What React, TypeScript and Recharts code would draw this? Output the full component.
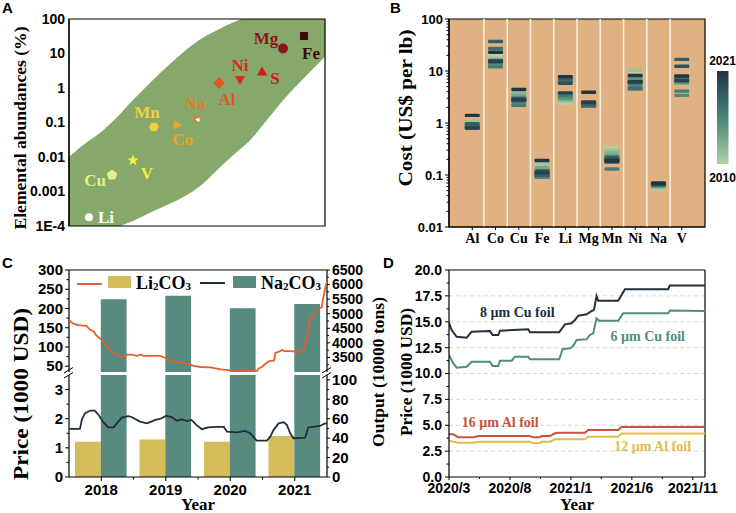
import React from "react";
import {
  ComposedChart,
  LineChart,
  Area,
  Bar,
  Line,
  Scatter,
  XAxis,
  YAxis,
  CartesianGrid,
  ReferenceArea,
  ReferenceLine,
  ReferenceDot,
} from "recharts";

const W = 736;
const H = 513;
const SERIF = '"Liberation Serif", "Times New Roman", serif';
const SANS = '"Liberation Sans", Arial, sans-serif';

// ---------- A: elemental abundances ----------
const bandX = [0, 6, 12, 19, 25, 32, 38, 45, 51, 58, 64, 71, 77, 84, 92, 100];
const bandUpper = [0.01, 0.024, 0.05, 0.15, 0.45, 1.5, 4, 11.5, 25, 48, 79, 126, 178, 250, 355, 500];
const bandLower = [2.5e-5, 3.5e-5, 5e-5, 9.3e-5, 1.4e-4, 2.5e-4, 4e-4, 7.2e-4, 1.4e-3, 4.3e-3, 0.011, 0.032, 0.11, 0.47, 2, 8];
const elements = ["Li", "Cu", "V", "Mn", "Co", "Na", "Al", "Ni", "S", "Mg", "Fe"];
const elementPos = [7.8, 16.8, 25, 33.2, 42, 50, 58.6, 66.8, 75.4, 83.6, 91.8];
const abundance = [0.00018, 0.003, 0.008, 0.074, 0.085, 0.13, 1.4, 1.7, 3, 14, 32];
const abundanceTicks = [1e-4, 0.001, 0.01, 0.1, 1, 10, 100];

const elementStyle: Record<string, any> = {
  Li: { color: "#ffffff", shape: "circle", r: 4, dx: 9, dy: 0, anchor: "start" },
  Cu: { color: "#e6ef86", shape: "pentagon", r: 5.5, dx: -6, dy: 5, anchor: "end" },
  V: { color: "#f2ee3c", shape: "star", r: 6, dx: 14, dy: 13, anchor: "middle" },
  Mn: { color: "#f0cf3a", shape: "hexagon", r: 5, dx: -7, dy: -15, anchor: "middle" },
  Co: { color: "#e9a523", shape: "triRight", r: 5.5, dx: 6, dy: 15, anchor: "middle" },
  Na: { color: "#e27b2e", shape: "triLeft", r: 5.5, dx: -2, dy: -15, anchor: "middle" },
  Al: { color: "#df5a22", shape: "diamond", r: 6, dx: 8, dy: 17, anchor: "middle" },
  Ni: { color: "#dc2a22", shape: "triDown", r: 6, dx: 0, dy: -15, anchor: "middle" },
  S: { color: "#d11a16", shape: "triUp", r: 6, dx: 13, dy: 7, anchor: "middle" },
  Mg: { color: "#8c1616", shape: "circle", r: 5, dx: -17, dy: -10, anchor: "middle" },
  Fe: { color: "#3a0a0a", shape: "square", r: 4, dx: 7, dy: 17, anchor: "middle" },
};

// ---------- B: cost per lb, 2010-2021 ----------
const metals = ["Al", "Co", "Cu", "Fe", "Li", "Mg", "Mn", "Ni", "Na", "V"];
const years = [2010, 2011, 2012, 2013, 2014, 2015, 2016, 2017, 2018, 2019, 2020, 2021];
const yearColors = [
  "#b3d0a6", "#9fc39c", "#8ab592", "#76a78a", "#639983", "#528b7e",
  "#467c77", "#3d6e6e", "#365f64", "#2f5059", "#28424d", "#223440",
];
const costAl = [1.0, 1.1, 0.92, 0.85, 0.86, 0.8, 0.8, 0.9, 0.97, 0.82, 0.8, 1.4];
const costCo = [19.6, 17.5, 14, 12.5, 14, 13, 12, 27, 37, 16, 15, 23];
const costCu = [3.4, 4.0, 3.6, 3.3, 3.1, 2.5, 2.2, 2.8, 2.95, 2.7, 2.8, 4.4];
const costFe = [0.15, 0.17, 0.13, 0.14, 0.11, 0.09, 0.095, 0.1, 0.1, 0.12, 0.11, 0.19];
const costLi = [2.4, 2.6, 2.8, 2.9, 3.0, 3.2, 3.4, 6.5, 7.2, 5.8, 3.8, 7.8];
const costMg = [2.3, 2.4, 2.3, 2.2, 2.2, 2.1, 2.1, 2.2, 2.3, 2.5, 2.5, 3.9];
const costMn = [0.33, 0.3, 0.27, 0.24, 0.22, 0.18, 0.13, 0.2, 0.22, 0.2, 0.18, 0.19];
const costNi = [9.9, 10.3, 8.0, 6.8, 7.6, 5.4, 4.5, 4.7, 5.9, 6.3, 6.2, 8.2];
const costNa = [0.055, 0.057, 0.06, 0.06, 0.062, 0.063, 0.064, 0.065, 0.066, 0.068, 0.067, 0.07];
const costV = [6.5, 6.8, 6.0, 5.9, 5.9, 3.4, 4.1, 7.2, 16.7, 12.3, 6.5, 8.0];
const metalCosts = [costAl, costCo, costCu, costFe, costLi, costMg, costMn, costNi, costNa, costV];
const costMajor = [0.01, 0.1, 1, 10, 100];
const costMinor = [
  0.02, 0.03, 0.04, 0.05, 0.06, 0.07, 0.08, 0.09, 0.2, 0.3, 0.4, 0.5, 0.6, 0.7, 0.8, 0.9,
  2, 3, 4, 5, 6, 7, 8, 9, 20, 30, 40, 50, 60, 70, 80, 90,
];

// ---------- C: Li2CO3 / Na2CO3 ----------
const outputYears = [2018, 2019, 2020, 2021];
const li2co3Output = [36.3, 38.7, 36.3, 42.1];
const na2co3Output = [5495, 5618, 5185, 5333];
const li2co3Price = [
  [2017.5, 170], [2017.56, 161], [2017.64, 157], [2017.77, 155], [2017.83, 144], [2017.88, 141],
  [2017.92, 131], [2017.98, 122], [2018.05, 113], [2018.09, 100], [2018.14, 92], [2018.19, 83],
  [2018.27, 79], [2018.32, 73], [2018.4, 80], [2018.47, 80], [2018.55, 77], [2018.62, 80],
  [2018.66, 77], [2018.91, 77], [2019.02, 70], [2019.17, 61], [2019.33, 57], [2019.43, 51],
  [2019.54, 48], [2019.69, 47], [2019.85, 42], [2020.0, 39], [2020.16, 38], [2020.42, 38],
  [2020.44, 44], [2020.49, 48], [2020.55, 57], [2020.6, 63], [2020.68, 65], [2020.7, 85],
  [2020.75, 87], [2020.8, 92], [2020.85, 89], [2020.93, 89], [2021.09, 87], [2021.14, 96],
  [2021.18, 122], [2021.22, 152], [2021.24, 178], [2021.28, 180], [2021.32, 191], [2021.37, 200],
  [2021.42, 203], [2021.44, 226], [2021.47, 252], [2021.5, 270],
];
const na2co3Price = [
  [2017.5, 1.65], [2017.67, 1.65], [2017.7, 1.98], [2017.75, 2.19], [2017.83, 2.28], [2017.9, 2.28],
  [2017.96, 2.13], [2018.03, 1.88], [2018.11, 1.7], [2018.19, 1.7], [2018.24, 1.84], [2018.32, 2.04],
  [2018.42, 2.09], [2018.47, 2.06], [2018.6, 1.9], [2018.71, 1.84], [2018.84, 1.96], [2018.91, 1.99],
  [2019.01, 2.1], [2019.1, 2.05], [2019.17, 1.93], [2019.25, 1.98], [2019.33, 1.92], [2019.4, 1.96],
  [2019.48, 1.78], [2019.56, 1.64], [2019.66, 1.7], [2019.79, 1.72], [2019.9, 1.72], [2019.95, 1.56],
  [2020.1, 1.53], [2020.23, 1.58], [2020.31, 1.5], [2020.41, 1.25], [2020.57, 1.25], [2020.62, 1.38],
  [2020.67, 1.61], [2020.75, 1.84], [2020.83, 1.88], [2020.88, 1.78], [2020.93, 1.5], [2020.98, 1.33],
  [2021.16, 1.35], [2021.21, 1.7], [2021.39, 1.75], [2021.47, 1.84], [2021.5, 1.84],
];

// ---------- D: current collector foils ----------
const foilMonthTicks = [0, 5, 10, 15, 20];
const foilMonthLabels = ["2020/3", "2020/8", "2021/1", "2021/6", "2021/11"];
const cu8Price = [
  [0, 14.9], [0.22, 14.2], [0.63, 13.55], [1.45, 13.46], [1.86, 14.04], [3.36, 14.1], [3.58, 13.72],
  [4.04, 13.72], [4.18, 14.14], [6.5, 14.27], [6.64, 13.98], [9.04, 13.98], [9.51, 14.75], [10.05, 14.85],
  [10.33, 15.17], [10.6, 15.59], [11.29, 15.72], [11.7, 16.04], [11.89, 16.13], [12.1, 17.49], [12.24, 17.04],
  [13.88, 17.04], [14.43, 18.14], [17.98, 18.14], [18.11, 18.5], [21, 18.5],
];
const cu6Price = [
  [0, 11.79], [0.35, 10.98], [0.63, 10.56], [1.45, 10.66], [1.86, 11.14], [3.36, 11.14], [3.58, 10.72],
  [4.04, 10.72], [4.18, 11.24], [5.14, 11.24], [5.41, 11.63], [6.5, 11.63], [6.64, 11.37], [9.04, 11.37],
  [9.32, 12.34], [9.92, 12.43], [10.19, 12.66], [10.46, 13.24], [11.29, 13.3], [11.56, 13.72], [11.83, 13.88],
  [12.1, 15.33], [12.32, 15.1], [13.88, 15.1], [14.29, 15.82], [17.98, 15.82], [18.11, 16.08], [21, 16.05],
];
const al16Price = [
  [0, 4.12], [0.35, 4.12], [0.77, 3.83], [1.99, 3.83], [2.4, 3.96], [6.64, 3.96], [6.91, 3.83], [7.45, 3.83],
  [7.6, 3.96], [8.28, 3.96], [8.69, 4.22], [8.96, 4.28], [11.15, 4.28], [11.42, 4.54], [13.88, 4.54],
  [14.15, 4.84], [21, 4.84],
];
const al12Price = [
  [0, 3.51], [0.35, 3.41], [0.77, 3.31], [1.99, 3.31], [2.4, 3.41], [6.64, 3.41], [6.91, 3.25], [7.45, 3.25],
  [7.6, 3.41], [8.28, 3.41], [8.69, 3.64], [11.15, 3.64], [11.42, 3.9], [13.88, 3.9], [14.15, 4.2], [21, 4.2],
];
const foilGrid = [2.5, 5, 7.5, 10, 12.5, 15, 17.5];

const GREEN = "#87a86b";
const TAN = "#e0b282";
const GOLD = "#d5bd5b";
const TEAL = "#588a7f";
const ORANGE = "#e0622a";
const NAVY = "#1f2e3f";

const abs: React.CSSProperties = { position: "absolute", left: 0, top: 0 };
const axisLine = { stroke: "#000", strokeWidth: 1.2 };

function makeTick(cfg: any) {
  const { side, majors, fmt = (v: number) => String(v), size, family = SANS, major = 4, minor = 2.5, gap = 2 } = cfg;
  return function Tick(props: any) {
    const { x, y, payload } = props;
    const v = Number(payload.value);
    const isMajor = majors.some((m: number) => Math.abs(m - v) <= Math.abs(m) * 1e-6 + 1e-12);
    const len = isMajor ? major : minor;
    const font = { fontFamily: family, fontWeight: 700, fontSize: size, fill: "#000" };
    if (side === "bottom") {
      return (
        <g>
          {len > 0 && <line x1={x} y1={y} x2={x} y2={y + len} stroke="#000" strokeWidth={1} />}
          {isMajor && (
            <text x={x} y={y + major + gap + size * 0.72} textAnchor="middle" {...font}>
              {fmt(v)}
            </text>
          )}
        </g>
      );
    }
    const dir = side === "left" ? -1 : 1;
    return (
      <g>
        {len > 0 && <line x1={x} y1={y} x2={x + dir * len} y2={y} stroke="#000" strokeWidth={1} />}
        {isMajor && (
          <text x={x + dir * (major + gap)} y={y} dy="0.35em" textAnchor={side === "left" ? "end" : "start"} {...font}>
            {fmt(v)}
          </text>
        )}
      </g>
    );
  };
}

function polyPoints(cx: number, cy: number, r: number, n: number, rot: number) {
  const pts = [];
  for (let k = 0; k < n; k++) {
    const a = rot + (k * 2 * Math.PI) / n;
    pts.push(`${cx + r * Math.cos(a)},${cy + r * Math.sin(a)}`);
  }
  return pts.join(" ");
}

function starPoints(cx: number, cy: number, r: number) {
  const pts = [];
  for (let k = 0; k < 10; k++) {
    const a = -Math.PI / 2 + (k * Math.PI) / 5;
    const rr = k % 2 === 0 ? r : r * 0.42;
    pts.push(`${cx + rr * Math.cos(a)},${cy + rr * Math.sin(a)}`);
  }
  return pts.join(" ");
}

function ElementMarker(props: any) {
  const { cx, cy, payload } = props;
  const st = elementStyle[payload.name];
  const c = st.color;
  let mark: any = null;
  switch (st.shape) {
    case "circle":
      mark = <circle cx={cx} cy={cy} r={st.r} fill={c} />;
      break;
    case "square":
      mark = <rect x={cx - st.r} y={cy - st.r} width={st.r * 2} height={st.r * 2} fill={c} />;
      break;
    case "diamond":
      mark = <polygon points={polyPoints(cx, cy, st.r, 4, -Math.PI / 2)} fill={c} />;
      break;
    case "triUp":
      mark = <polygon points={polyPoints(cx, cy + 1, st.r, 3, -Math.PI / 2)} fill={c} />;
      break;
    case "triDown":
      mark = <polygon points={polyPoints(cx, cy - 1, st.r, 3, Math.PI / 2)} fill={c} />;
      break;
    case "triRight":
      mark = <polygon points={polyPoints(cx, cy, st.r, 3, 0)} fill={c} />;
      break;
    case "triLeft":
      mark = (
        <g>
          <polygon points={polyPoints(cx, cy, st.r, 3, Math.PI)} fill={c} />
          <polygon points={`${cx - 2},${cy + 1} ${cx + 2.5},${cy - 1} ${cx + 2.5},${cy + 3.5}`} fill="#fff" />
        </g>
      );
      break;
    case "pentagon":
      mark = <polygon points={polyPoints(cx, cy, st.r, 5, -Math.PI / 2)} fill={c} />;
      break;
    case "hexagon":
      mark = <polygon points={polyPoints(cx, cy, st.r, 6, 0)} fill={c} />;
      break;
    case "star":
      mark = <polygon points={starPoints(cx, cy, st.r)} fill={c} />;
      break;
  }
  return (
    <g>
      {mark}
      <text
        x={cx + st.dx}
        y={cy + st.dy}
        textAnchor={st.anchor}
        dominantBaseline="central"
        fontFamily={SERIF}
        fontWeight={700}
        fontSize={17}
        fill={c}
      >
        {payload.name}
      </text>
    </g>
  );
}

function VTitle({ x, y, text, size, len }: any) {
  return (
    <text
      transform={`translate(${x},${y}) rotate(-90)`}
      textAnchor="middle"
      dominantBaseline="central"
      fontFamily={SERIF}
      fontWeight={700}
      fontSize={size}
      textLength={len}
      lengthAdjust="spacingAndGlyphs"
    >
      {text}
    </text>
  );
}

function Chem({ x, y, base }: any) {
  return (
    <text x={x} y={y} fontFamily={SERIF} fontWeight={700} fontSize={18} fill="#000">
      {base}
      <tspan fontSize={11} dy={1.5}>2</tspan>
      <tspan dy={-1.5}>CO</tspan>
      <tspan fontSize={11} dy={1.5}>3</tspan>
    </text>
  );
}

const bandRows = bandX.map((x, i) => ({ x, lo: bandLower[i], hi: bandUpper[i] }));
const elementRows = elements.map((name, i) => ({ name, x: elementPos[i], y: abundance[i] }));
const outputRows = outputYears.map((year, i) => ({ year, li: li2co3Output[i], na: na2co3Output[i] }));
const toRows = (pts: number[][], k: string) => pts.map(([a, v]) => ({ [k]: a, v }));

const foilSeries = [
  { name: "8 µm Cu foil", pts: cu8Price, color: "#22303f", lx: 5.6, ly: 15.9 },
  { name: "6 µm Cu foil", pts: cu6Price, color: "#4f8f77", lx: 16.3, ly: 13.6 },
  { name: "16 µm Al foil", pts: al16Price, color: "#c6533b", lx: 4.2, ly: 5.3 },
  { name: "12 µm Al foil", pts: al12Price, color: "#e1bb4c", lx: 16.7, ly: 2.9 },
];

export default function App() {
  const yearsC = [2018, 2019, 2020, 2021];
  return (
    <div style={{ position: "absolute", left: 0, top: 0, width: W, height: H, background: "#fff", overflow: "hidden" }}>
      {/* ---------- A ---------- */}
      <div style={abs}>
        <ComposedChart width={W} height={H} data={bandRows} margin={{ top: 19, bottom: 287, left: 24, right: 411 }}>
          <XAxis type="number" dataKey="x" domain={[0, 100]} allowDataOverflow hide />
          <YAxis
            scale="log"
            type="number"
            domain={[1e-4, 100]}
            allowDataOverflow
            ticks={abundanceTicks}
            interval={0}
            width={45}
            tickSize={0}
            tickMargin={0}
            tickLine={false}
            axisLine={axisLine}
            tick={makeTick({ side: "left", majors: abundanceTicks, size: 14, major: 0, gap: 4, fmt: (v: number) => (v < 5e-4 ? "1E-4" : String(v)) })}
          />
          <Area
            dataKey={(d: any) => [d.lo, d.hi]}
            type="monotone"
            fill={GREEN}
            fillOpacity={1}
            stroke="none"
            isAnimationActive={false}
          />
          <Scatter data={elementRows} dataKey="y" shape={ElementMarker} isAnimationActive={false} />
          <ReferenceArea x1={0} x2={100} y1={1e-4} y2={100} fill="none" stroke="#000" strokeWidth={1.2} />
        </ComposedChart>
      </div>

      {/* ---------- B ---------- */}
      <div style={abs}>
        <ComposedChart width={W} height={H} margin={{ top: 19, bottom: 261, left: 409, right: 31 }}>
          <CartesianGrid fill={TAN} fillOpacity={1} horizontal={false} vertical={false} />
          <XAxis
            type="number"
            dataKey="x"
            domain={[0, 11]}
            allowDataOverflow
            ticks={[1, 2, 3, 4, 5, 6, 7, 8, 9, 10]}
            interval={0}
            height={25}
            tickSize={0}
            tickMargin={0}
            tickLine={false}
            axisLine={axisLine}
            tick={makeTick({ side: "bottom", majors: [1, 2, 3, 4, 5, 6, 7, 8, 9, 10], size: 14, family: SERIF, major: 3, gap: 3, fmt: (v: number) => metals[v - 1] })}
          />
          <YAxis
            scale="log"
            type="number"
            domain={[0.01, 100]}
            allowDataOverflow
            ticks={[...costMajor, ...costMinor]}
            interval={0}
            width={40}
            tickSize={0}
            tickMargin={0}
            tickLine={false}
            axisLine={axisLine}
            tick={makeTick({ side: "left", majors: costMajor, size: 13, major: 4, minor: 2.5, gap: 2 })}
          />
          {[1.5, 2.5, 3.5, 4.5, 5.5, 6.5, 7.5, 8.5, 9.5].map((x) => (
            <ReferenceLine key={x} x={x} stroke="#f6efe4" strokeWidth={1.6} />
          ))}
          {years.map((yr, yi) => (
            <Scatter
              key={yr}
              data={metals.map((m, mi) => ({ x: mi + 1, y: metalCosts[mi][yi] }))}
              dataKey="y"
              isAnimationActive={false}
              shape={(p: any) => (
                <rect x={p.cx - 7.5} y={p.cy - 1.7} width={15} height={3.4} rx={1.2} fill={yearColors[yi]} />
              )}
            />
          ))}
          <ReferenceArea x1={0} x2={11} y1={0.01} y2={100} fill="none" stroke="#000" strokeWidth={1.2} />
        </ComposedChart>
      </div>

      {/* ---------- C top: bars + axes ---------- */}
      <div style={abs}>
        <ComposedChart width={W} height={H} data={outputRows} barGap={0} margin={{ top: 270, bottom: 141, left: 24, right: 364 }}>
          <XAxis type="number" dataKey="year" domain={[2017.5, 2021.5]} allowDataOverflow hide />
          <YAxis
            yAxisId="l"
            type="number"
            domain={[35, 300]}
            allowDataOverflow
            ticks={[50, 75, 100, 125, 150, 175, 200, 225, 250, 275, 300]}
            interval={0}
            width={45}
            tickSize={0}
            tickMargin={0}
            tickLine={false}
            axisLine={axisLine}
            tick={makeTick({ side: "left", majors: [50, 100, 150, 200, 250, 300], size: 15, major: 4, minor: 2.5, gap: 2 })}
          />
          <YAxis
            yAxisId="r"
            orientation="right"
            type="number"
            domain={[3000, 6500]}
            allowDataOverflow
            ticks={[3250, 3500, 3750, 4000, 4250, 4500, 4750, 5000, 5250, 5500, 5750, 6000, 6250, 6500]}
            interval={0}
            width={45}
            tickSize={0}
            tickMargin={0}
            tickLine={false}
            axisLine={axisLine}
            tick={makeTick({ side: "right", majors: [3500, 4000, 4500, 5000, 5500, 6000, 6500], size: 14, major: 3, minor: 2, gap: 2 })}
          />
          <ReferenceLine yAxisId="r" y={6500} stroke="#000" strokeWidth={1.2} />
          <Bar yAxisId="r" dataKey="li" fill={GOLD} barSize={25.8} isAnimationActive={false} />
          <Bar yAxisId="r" dataKey="na" fill={TEAL} barSize={25.8} isAnimationActive={false} />
        </ComposedChart>
      </div>
      <div style={abs}>
        <LineChart width={W} height={H} margin={{ top: 270, bottom: 141, left: 69, right: 409 }}>
          <XAxis type="number" dataKey="t" domain={[2017.5, 2021.5]} allowDataOverflow hide />
          <YAxis type="number" domain={[35, 300]} allowDataOverflow hide />
          <Line data={toRows(li2co3Price, "t")} dataKey="v" stroke={ORANGE} strokeWidth={1.8} dot={false} isAnimationActive={false} />
        </LineChart>
      </div>

      {/* ---------- C bottom ---------- */}
      <div style={abs}>
        <ComposedChart width={W} height={H} data={outputRows} barGap={0} margin={{ top: 375, bottom: 0, left: 24, right: 364 }}>
          <XAxis
            type="number"
            dataKey="year"
            domain={[2017.5, 2021.5]}
            allowDataOverflow
            ticks={[2018, 2018.5, 2019, 2019.5, 2020, 2020.5, 2021]}
            interval={0}
            height={36}
            tickSize={0}
            tickMargin={0}
            tickLine={false}
            axisLine={axisLine}
            tick={makeTick({ side: "bottom", majors: yearsC, size: 15, major: 4, minor: 2.5, gap: 3 })}
          />
          <YAxis
            yAxisId="l"
            type="number"
            domain={[0, 3.5]}
            allowDataOverflow
            ticks={[0, 0.5, 1, 1.5, 2, 2.5, 3]}
            interval={0}
            width={45}
            tickSize={0}
            tickMargin={0}
            tickLine={false}
            axisLine={axisLine}
            tick={makeTick({ side: "left", majors: [0, 1, 2, 3], size: 15, major: 4, minor: 2.5, gap: 2 })}
          />
          <YAxis
            yAxisId="r"
            orientation="right"
            type="number"
            domain={[0, 105]}
            allowDataOverflow
            ticks={[0, 10, 20, 30, 40, 50, 60, 70, 80, 90, 100]}
            interval={0}
            width={45}
            tickSize={0}
            tickMargin={0}
            tickLine={false}
            axisLine={axisLine}
            tick={makeTick({ side: "right", majors: [0, 20, 40, 60, 80, 100], size: 15, major: 3, minor: 2, gap: 2 })}
          />
          <Bar yAxisId="r" dataKey="li" fill={GOLD} barSize={25.8} isAnimationActive={false} />
          <Bar yAxisId="r" dataKey="na" fill={TEAL} barSize={25.8} isAnimationActive={false} />
        </ComposedChart>
      </div>
      <div style={abs}>
        <LineChart width={W} height={H} margin={{ top: 375, bottom: 36, left: 69, right: 409 }}>
          <XAxis type="number" dataKey="t" domain={[2017.5, 2021.5]} allowDataOverflow hide />
          <YAxis type="number" domain={[0, 3.5]} allowDataOverflow hide />
          <Line data={toRows(na2co3Price, "t")} dataKey="v" stroke={NAVY} strokeWidth={1.8} dot={false} isAnimationActive={false} />
        </LineChart>
      </div>

      {/* ---------- D ---------- */}
      <div style={abs}>
        <LineChart width={W} height={H} margin={{ top: 270, bottom: 0, left: 404, right: 31 }}>
          <XAxis
            type="number"
            dataKey="m"
            domain={[0, 21]}
            allowDataOverflow
            ticks={[0, 2.5, 5, 7.5, 10, 12.5, 15, 17.5, 20]}
            interval={0}
            height={36}
            tickSize={0}
            tickMargin={0}
            tickLine={false}
            axisLine={axisLine}
            tick={makeTick({ side: "bottom", majors: foilMonthTicks, size: 14, major: 3, minor: 2, gap: 3, fmt: (v: number) => foilMonthLabels[foilMonthTicks.indexOf(v)] })}
          />
          <YAxis
            type="number"
            domain={[0, 20]}
            allowDataOverflow
            ticks={[0, 1.25, 2.5, 3.75, 5, 6.25, 7.5, 8.75, 10, 11.25, 12.5, 13.75, 15, 16.25, 17.5, 18.75, 20]}
            interval={0}
            width={45}
            tickSize={0}
            tickMargin={0}
            tickLine={false}
            axisLine={axisLine}
            tick={makeTick({ side: "left", majors: [0, 2.5, 5, 7.5, 10, 12.5, 15, 17.5, 20], size: 14, major: 4, minor: 2.5, gap: 3, fmt: (v: number) => v.toFixed(1) })}
          />
          {foilGrid.map((g) => (
            <ReferenceLine key={g} y={g} stroke="#cfcfcf" strokeWidth={0.8} strokeDasharray="4 3" />
          ))}
          <ReferenceLine y={20} stroke="#000" strokeWidth={1.2} />
          <ReferenceLine x={21} stroke="#000" strokeWidth={1.2} />
          {foilSeries.map((s) => (
            <Line
              key={s.name}
              data={toRows(s.pts, "m")}
              dataKey="v"
              stroke={s.color}
              strokeWidth={2}
              dot={false}
              isAnimationActive={false}
            />
          ))}
          {foilSeries.map((s) => (
            <ReferenceDot
              key={"l" + s.name}
              x={s.lx}
              y={s.ly}
              r={0}
              shape={(p: any) => (
                <text x={p.cx} y={p.cy} textAnchor="middle" dominantBaseline="central" fontFamily={SERIF} fontWeight={700} fontSize={14} fill={s.color}>
                  {s.name}
                </text>
              )}
            />
          ))}
        </LineChart>
      </div>

      {/* ---------- titles, legend, colorbar ---------- */}
      <svg width={W} height={H} style={{ ...abs, pointerEvents: "none" }}>
        <defs>
          <linearGradient id="yearGrad" x1="0" y1="1" x2="0" y2="0">
            {yearColors.map((c, i) => (
              <stop key={c} offset={i / (yearColors.length - 1)} stopColor={c} />
            ))}
          </linearGradient>
        </defs>
        <g fontFamily={SANS} fontWeight={700} fontSize={15} fill="#000">
          <text x={2} y={13}>A</text>
          <text x={390} y={13}>B</text>
          <text x={2} y={268}>C</text>
          <text x={383} y={268}>D</text>
        </g>
        <VTitle x={20} y={128} text="Elemental abundances (%)" size={17} len={203} />
        <VTitle x={405} y={108} text="Cost (US$ per lb)" size={19} len={157} />
        <VTitle x={21} y={394} text="Price (1000 USD)" size={20} len={172} />
        <VTitle x={378} y={372} text="Output (10000 tons)" size={16} len={150} />
        <VTitle x={406} y={372} text="Price (1000 USD)" size={17} len={128} />
        <text x={198} y={504} textAnchor="middle" dominantBaseline="central" fontFamily={SERIF} fontWeight={700} fontSize={17}>Year</text>
        <text x={577} y={504} textAnchor="middle" dominantBaseline="central" fontFamily={SERIF} fontWeight={700} fontSize={17}>Year</text>

        {/* colorbar */}
        <rect x={717} y={71} width={11.5} height={93} fill="url(#yearGrad)" />
        <text x={722.5} y={61} textAnchor="middle" dominantBaseline="central" fontFamily={SANS} fontWeight={700} fontSize={12}>2021</text>
        <text x={722.5} y={177.5} textAnchor="middle" dominantBaseline="central" fontFamily={SANS} fontWeight={700} fontSize={12}>2010</text>

        {/* legend C */}
        <line x1={77} y1={284} x2={102} y2={284} stroke={ORANGE} strokeWidth={2} />
        <rect x={108} y={276} width={23} height={12} fill={GOLD} />
        <Chem x={136} y={288.5} base="Li" />
        <line x1={200} y1={283} x2={225} y2={283} stroke={NAVY} strokeWidth={2} />
        <rect x={233} y={276} width={23} height={12} fill={TEAL} />
        <Chem x={261} y={288.5} base="Na" />

        {/* axis breaks */}
        {[69, 327].map((x) => (
          <g key={x} stroke="#000" strokeWidth={1}>
            <line x1={x - 5} y1={373} x2={x + 4} y2={367.5} />
            <line x1={x - 5} y1={378} x2={x + 4} y2={372.5} />
          </g>
        ))}
      </svg>
    </div>
  );
}
